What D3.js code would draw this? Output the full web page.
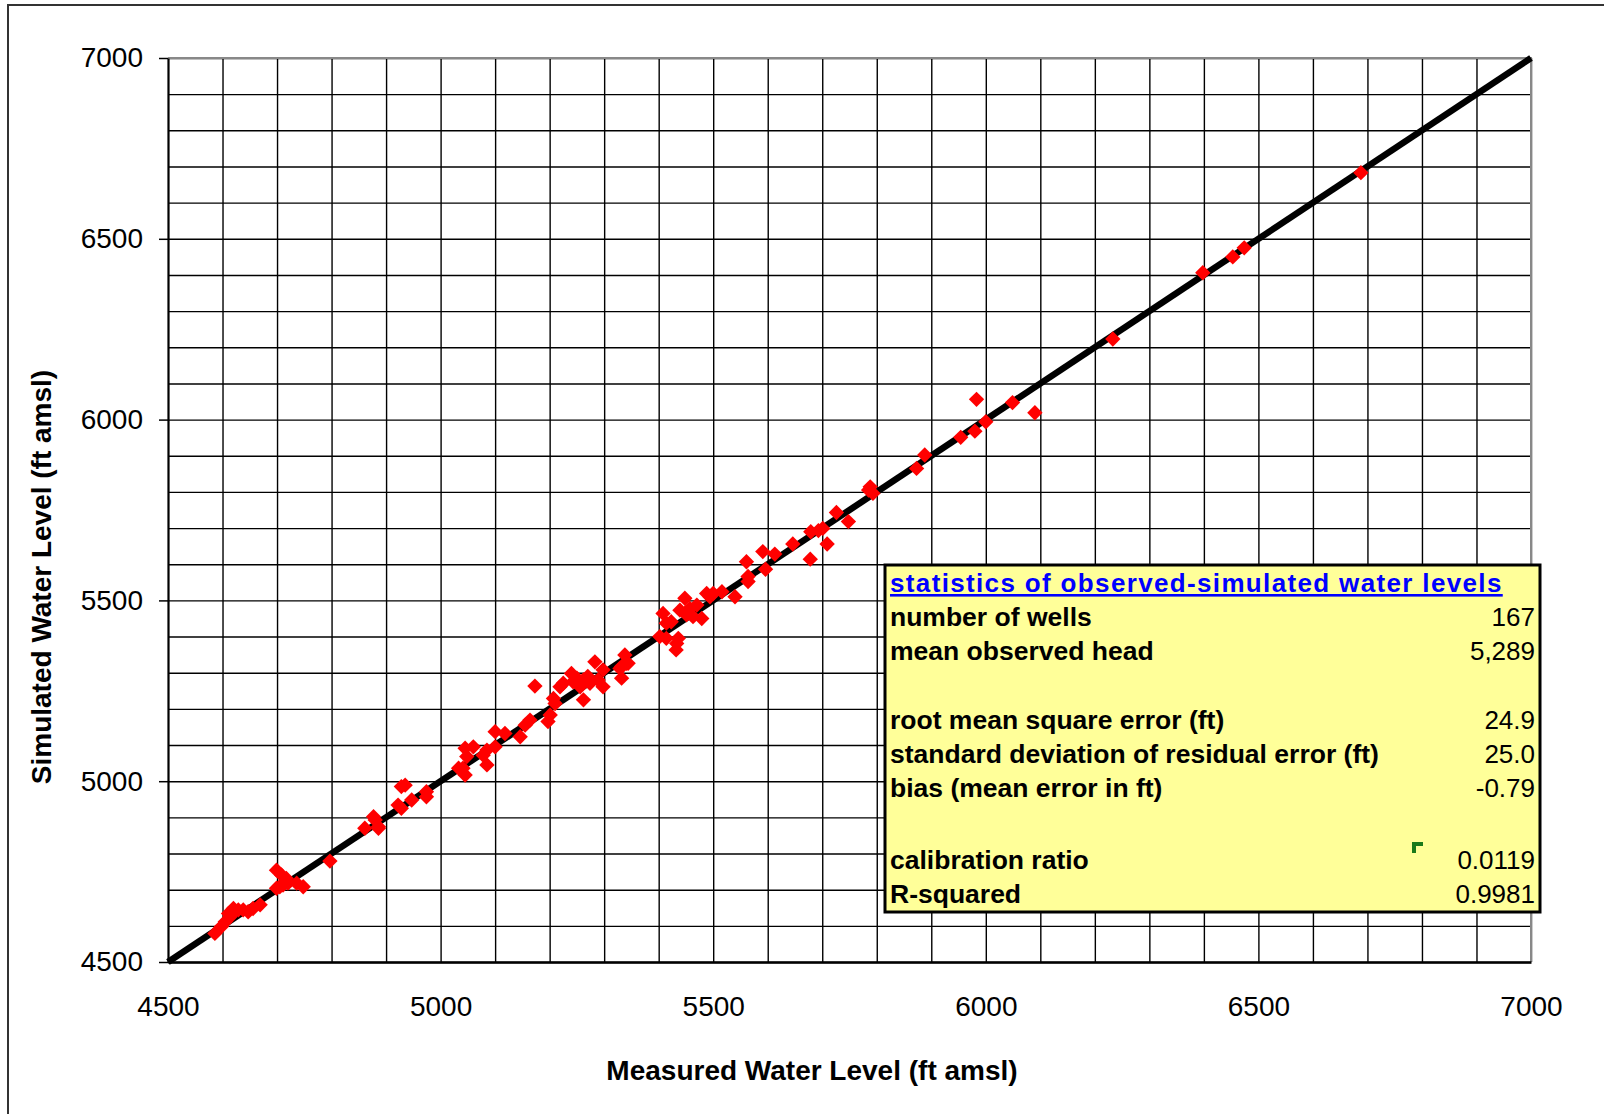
<!DOCTYPE html>
<html>
<head>
<meta charset="utf-8">
<script src="https://cdn.jsdelivr.net/npm/d3@7"></script>
<style>
  body { margin: 0; background: #fff; }
  svg { display: block; font-family: "Liberation Sans", Arial, sans-serif; }
</style>
</head>
<body>
<svg id="chart" width="1604" height="1114"></svg>
<script>
// measured vs simulated heads (ft amsl)
var measured = [6233,6398,6453,6474,6688,5983,6049,6090,6000,5980,5954,5888,5873,5788,5793,5785,
  5726,5748,5701,5693,5679,5709,5678,5646,5613,5591,5561,5596,5564,5564,5540,5516,5500,5488,5494,
  5448,5470,5457,5439,5479,5463,5451,5408,5414,5423,5402,5414,5436,5432,5433,5338,5341,5332,5332,
  5298,5298,5283,5344,5329,5289,5274,5262,5256,5262,5240,5243,5225,5219,5173,5207,5210,5201,5197,
  5164,5155,5146,5118,5100,5100,5085,5078,5085,5060,5045,5048,5041,5045,5033,4974,4974,4947,4935,
  4928,4922,4928,4877,4861,4886,4880,4886,4797,4699,4708,4717,4699,4705,4711,4720,4736,4748,4669,
  4656,4647,4638,4629,4620,4614,4605,4598,4586,4611,4620,5270,5250];
var simulated = [6223,6406,6450,6475,6683,6056,6047,6019,5994,5968,5951,5902,5865,5814,5796,5805,
  5743,5718,5699,5693,5690,5656,5614,5656,5628,5635,5607,5586,5566,5552,5510,5524,5519,5519,5510,
  5506,5487,5478,5473,5450,5455,5460,5464,5437,5441,5400,5395,5395,5363,5381,5349,5326,5317,5285,
  5308,5261,5330,5326,5312,5280,5271,5280,5261,5225,5298,5275,5271,5261,5263,5229,5215,5183,5165,
  5169,5155,5123,5132,5137,5095,5086,5072,5045,5095,5091,5068,5036,5017,5036,4971,4957,4948,4989,
  4985,4934,4925,4902,4870,4870,4893,4874,4779,4754,4741,4731,4704,4708,4713,4718,4718,4708,4658,
  4648,4639,4644,4644,4639,4625,4611,4598,4579,4634,4648,5290,5285];

var axisMin = 4500, axisMax = 7000;
var majorTicks = [4500, 5000, 5500, 6000, 6500, 7000];

// statistics table
var statsTitle = 'statistics of observed-simulated water levels';
var statLabels = ['number of wells', 'mean observed head', '', 'root mean square error (ft)',
  'standard deviation of residual error (ft)', 'bias (mean error in ft)', '', 'calibration ratio', 'R-squared'];
var statValues = ['167', '5,289', '', '24.9', '25.0', '-0.79', '', '0.0119', '0.9981'];

var svg = d3.select('#chart');
var plot = {left: 168, top: 58, right: 1531, bottom: 962};
var width = plot.right - plot.left,
    height = plot.bottom - plot.top;

var x = d3.scaleLinear().domain([axisMin, axisMax]).range([plot.left, plot.right]),
    y = d3.scaleLinear().domain([axisMin, axisMax]).range([plot.bottom, plot.top]);

// outer chart frame (only top/left are inside the picture)
svg.append('path')
    .attr('d', 'M8,1120 L8,5 L1610,5')
    .style('fill', 'none')
    .style('stroke', '#333')
    .style('stroke-width', 2);

// gridlines every 100 ft
svg.append('g')
    .attr('transform', 'translate(0,' + plot.bottom + ')')
    .call(d3.axisBottom(x).ticks(25).tickSize(-height).tickFormat(''))
    .call(function(g) { g.select('.domain').remove(); })
    .selectAll('line').style('stroke', '#000').style('stroke-width', 1.4);
svg.append('g')
    .attr('transform', 'translate(' + plot.left + ',0)')
    .call(d3.axisLeft(y).ticks(25).tickSize(-width).tickFormat(''))
    .call(function(g) { g.select('.domain').remove(); })
    .selectAll('line').style('stroke', '#000').style('stroke-width', 1.4);

// top and right plot border in grey
svg.append('path')
    .attr('d', 'M' + plot.left + ',' + plot.top + ' L' + plot.right + ',' + plot.top + ' L' + plot.right + ',' + plot.bottom)
    .style('fill', 'none')
    .style('stroke', '#888')
    .style('stroke-width', 2);

// x axis (labels only, no tick marks)
var xAxis = svg.append('g')
    .attr('transform', 'translate(0,' + plot.bottom + ')')
    .call(d3.axisBottom(x).tickValues(majorTicks).tickSize(0).tickPadding(34).tickFormat(d3.format('d')));
xAxis.select('.domain').style('stroke', '#000').style('stroke-width', 2.5);
xAxis.selectAll('text')
    .style('font-size', '28px')
    .style('font-family', '"Liberation Sans", Arial, sans-serif')
    .style('fill', '#000');

// y axis
var yAxis = svg.append('g')
    .attr('transform', 'translate(' + plot.left + ',0)')
    .call(d3.axisLeft(y).tickValues(majorTicks).tickSize(9).tickSizeOuter(0).tickPadding(16).tickFormat(d3.format('d')));
yAxis.select('.domain').style('stroke', '#000').style('stroke-width', 2);
yAxis.selectAll('line').style('stroke', '#000').style('stroke-width', 1.5);
yAxis.selectAll('text')
    .style('font-size', '28px')
    .style('font-family', '"Liberation Sans", Arial, sans-serif')
    .style('fill', '#000');

// axis titles
svg.append('text')
    .attr('x', 812)
    .attr('y', 1080)
    .attr('text-anchor', 'middle')
    .style('font-size', '28px')
    .style('font-weight', 'bold')
    .text('Measured Water Level (ft amsl)');
svg.append('text')
    .attr('transform', 'translate(51,577) rotate(-90)')
    .attr('text-anchor', 'middle')
    .style('font-size', '28px')
    .style('font-weight', 'bold')
    .text('Simulated Water Level (ft amsl)');

// 1:1 line
svg.append('line')
    .attr('x1', x(axisMin))
    .attr('y1', y(axisMin))
    .attr('x2', x(axisMax))
    .attr('y2', y(axisMax))
    .style('stroke', '#000')
    .style('stroke-width', 6.5);

// data points, red diamonds
var pts = measured.map(function(d, i) { return {m: d, s: simulated[i]}; });
svg.selectAll('.dots')
    .data(pts)
    .enter()
    .append('path')
    .attr('class', 'dots')
    .attr('d', d3.symbol().type(d3.symbolSquare).size(118))
    .attr('transform', function(d) { return 'translate(' + x(d.m) + ',' + y(d.s) + ') rotate(45)'; })
    .style('fill', '#ff0000');

// statistics box
var box = {left: 885, top: 565, right: 1540, bottom: 912};
var rowH = 34.2;
svg.append('rect')
    .attr('x', box.left)
    .attr('y', box.top)
    .attr('width', box.right - box.left)
    .attr('height', box.bottom - box.top)
    .style('fill', '#ffff99')
    .style('stroke', '#000')
    .style('stroke-width', 3);

svg.append('text')
    .attr('x', box.left + 5)
    .attr('y', box.top + 27)
    .style('font-size', '26px')
    .style('font-weight', 'bold')
    .style('letter-spacing', '1.35px')
    .style('fill', '#0000ff')
    .style('text-decoration', 'underline')
    .text(statsTitle);

statLabels.forEach(function(label, i) {
    var ty = box.top + 27 + (i + 1) * rowH + (i > 6 ? 3 : 0);
    svg.append('text')
        .attr('x', box.left + 5)
        .attr('y', ty)
        .style('font-size', '26.5px')
        .style('font-weight', 'bold')
        .text(label);
    svg.append('text')
        .attr('x', box.right - 5)
        .attr('y', ty)
        .attr('text-anchor', 'end')
        .style('font-size', '26px')
        .text(statValues[i]);
});

// little green cell-comment marker
svg.append('path')
    .attr('d', 'M1412,842 h11 v4 h-7 v7 h-4 z')
    .style('fill', '#1a7a1a');
</script>
</body>
</html>
